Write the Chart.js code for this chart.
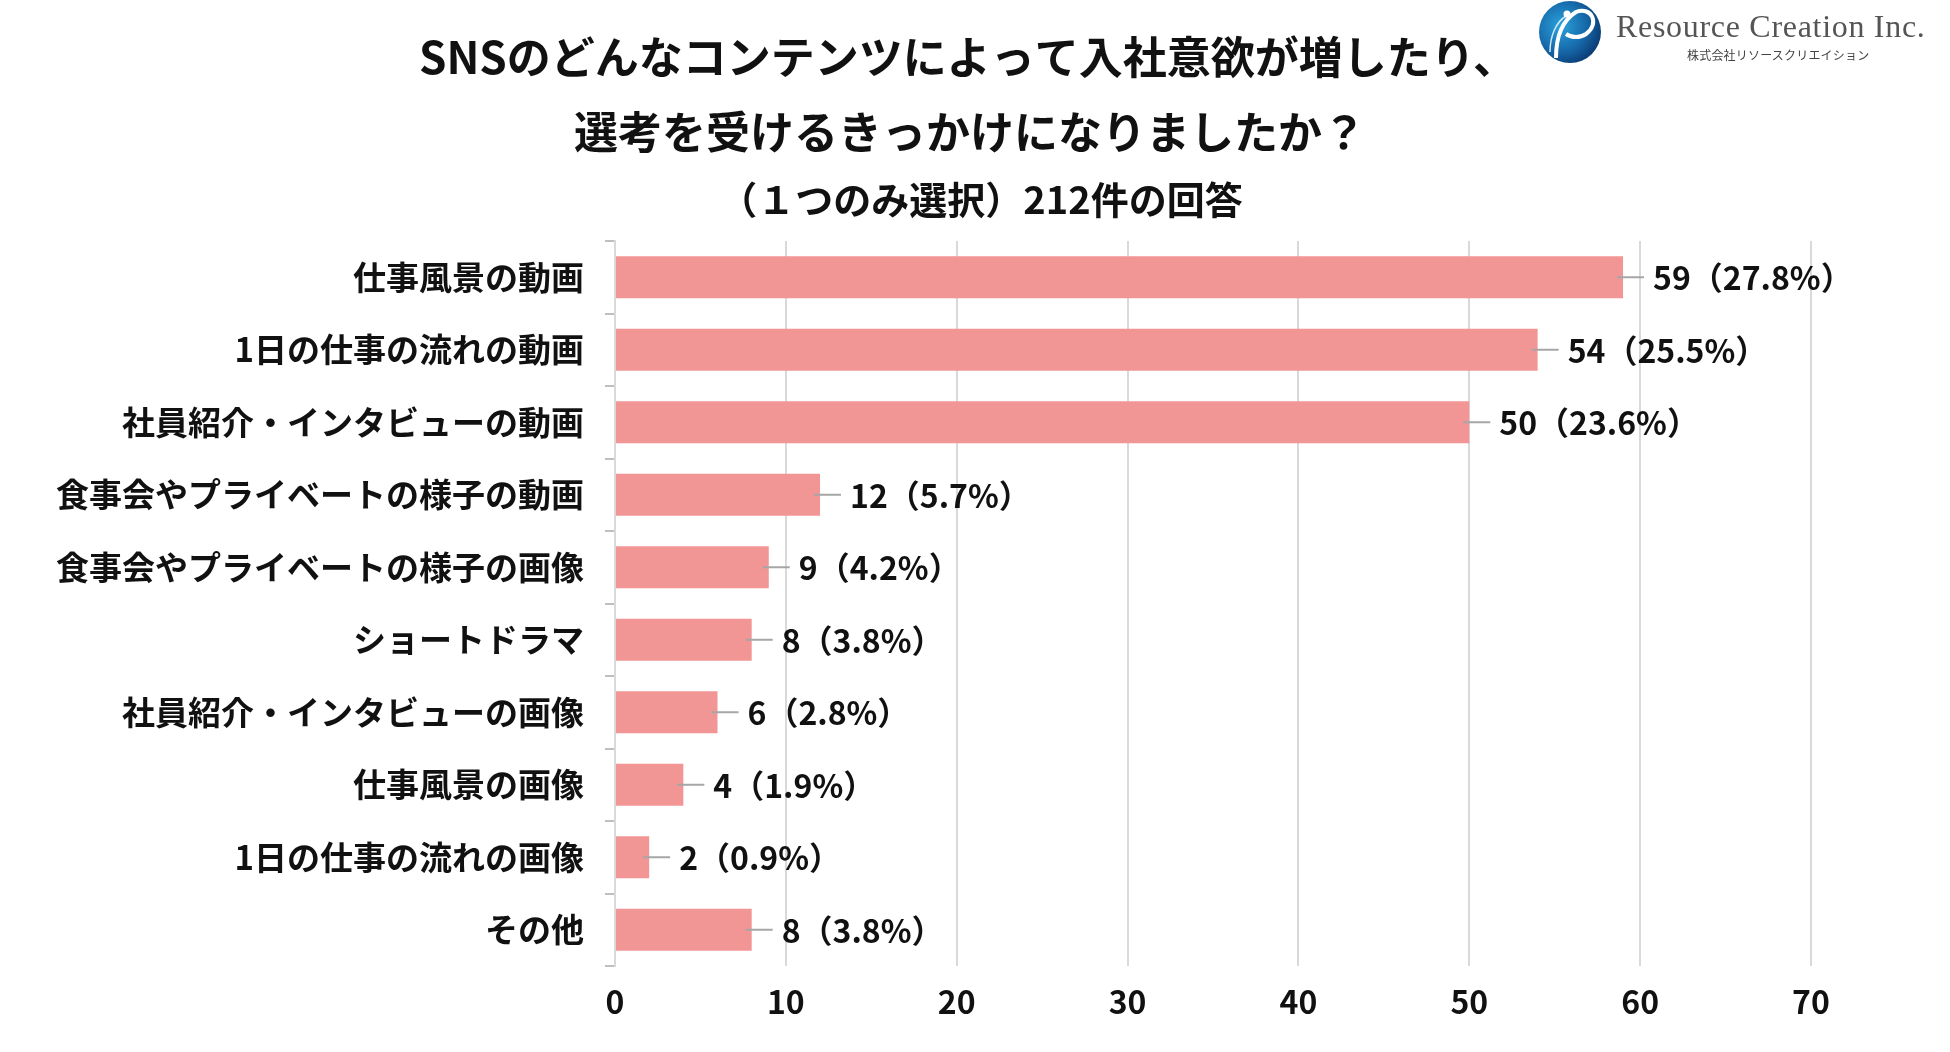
<!DOCTYPE html>
<html lang="ja">
<head>
<meta charset="utf-8">
<title>SNSコンテンツ 入社意欲</title>
<script src="https://cdn.jsdelivr.net/npm/chart.js@4.4.1/dist/chart.umd.min.js"></script>
<style>
  html, body { margin: 0; padding: 0; background: #fff; }
  .wrap { position: relative; width: 1950px; height: 1052px; }
  .logo { position: absolute; left: 1536px; top: 0px; width: 414px; height: 70px; }
  .logo svg { position: absolute; left: 0; top: 0; }
  .logo .en { position: absolute; left: 80px; top: 8px; font-family: "Liberation Serif", "DejaVu Serif", serif;
              font-size: 32px; color: #555; letter-spacing: 0.7px; white-space: nowrap; }
  .logo .ja { position: absolute; left: 151px; top: 46px; font-family: "Noto Sans CJK JP", sans-serif;
              font-size: 12px; color: #444; letter-spacing: 0.2px; white-space: nowrap; }
</style>
</head>
<body>
<div class="wrap">
  <canvas id="snsChart"></canvas>
  <div class="logo">
    <svg width="70" height="68" viewBox="0 0 70 68">
      <defs>
        <radialGradient id="lg" cx="0.35" cy="0.4" r="0.7">
          <stop offset="0" stop-color="#2aa3dc"/>
          <stop offset="0.6" stop-color="#1667a8"/>
          <stop offset="1" stop-color="#0a3770"/>
        </radialGradient>
      </defs>
      <circle cx="34" cy="32" r="31" fill="url(#lg)"/>
      <path d="M20 58 C 20 40, 24 22, 40 12 C 56 6, 64 24, 50 34 C 44 38, 36 38, 30 34" fill="none" stroke="#fff" stroke-width="4"/>
      <path d="M14 52 C 14 36, 20 22, 30 16" fill="none" stroke="#cfe9f7" stroke-width="1.5"/>
      <circle cx="31" cy="14" r="3.5" fill="#fff"/>
    </svg>
    <div class="en">Resource Creation Inc.</div>
    <div class="ja">株式会社リソースクリエイション</div>
  </div>
</div>
<script>
// データ
const categories = [
  '仕事風景の動画',
  '1日の仕事の流れの動画',
  '社員紹介・インタビューの動画',
  '食事会やプライベートの様子の動画',
  '食事会やプライベートの様子の画像',
  'ショートドラマ',
  '社員紹介・インタビューの画像',
  '仕事風景の画像',
  '1日の仕事の流れの画像',
  'その他'
];
const counts = [59, 54, 50, 12, 9, 8, 6, 4, 2, 8];
const percents = ['27.8', '25.5', '23.6', '5.7', '4.2', '3.8', '2.8', '1.9', '0.9', '3.8'];
const xMin = 0;
const xMax = 70;
const xStep = 10;

const titleLines = ['SNSのどんなコンテンツによって入社意欲が増したり、', '選考を受けるきっかけになりましたか？'];
const subtitleText = '（１つのみ選択）212件の回答';

const jpFont = '"Noto Sans CJK JP", "Noto Sans", sans-serif';

// タイトル（キャンバス中央より少し左寄せ）
const headTitle = {
  id: 'headTitle',
  afterDraw(chart) {
    const ctx = chart.ctx;
    ctx.save();
    ctx.fillStyle = '#111';
    ctx.textAlign = 'center';
    ctx.textBaseline = 'middle';
    ctx.font = 'bold 44px ' + jpFont;
    ctx.fillText(titleLines[0], 968, 57);
    ctx.fillText(titleLines[1], 970, 132);
    ctx.font = 'bold 38px ' + jpFont;
    ctx.fillText(subtitleText, 981, 200);
    ctx.restore();
  }
};

// 棒の右に「59（27.8%）」のラベルと引き出し線を描く
const barLabels = {
  id: 'barLabels',
  afterDatasetsDraw(chart) {
    const ctx = chart.ctx;
    const meta = chart.getDatasetMeta(0);
    meta.data.forEach((bar, i) => {
      ctx.save();
      ctx.strokeStyle = '#a6a6a6';
      ctx.lineWidth = 2;
      ctx.beginPath();
      ctx.moveTo(bar.x - 6, bar.y);
      ctx.lineTo(bar.x + 21, bar.y);
      ctx.stroke();
      ctx.fillStyle = '#111';
      ctx.font = 'bold 32px ' + jpFont;
      ctx.textAlign = 'left';
      ctx.textBaseline = 'middle';
      ctx.fillText(counts[i] + '（' + percents[i] + '%）', bar.x + 30, bar.y + 1);
      ctx.restore();
    });
  }
};

const ctx = document.getElementById('snsChart').getContext('2d');
const snsChart = new Chart(ctx, {
  type: 'bar',
  data: {
    labels: categories,
    datasets: [{
      data: counts,
      backgroundColor: '#f29595',
      borderWidth: 0,
      categoryPercentage: 0.58,
      barPercentage: 1.0
    }]
  },
  options: {
    indexAxis: 'y',
    responsive: true,
    maintainAspectRatio: false,
    animation: false,
    layout: {
      padding: { left: 0, right: 139, top: 241, bottom: 0 }
    },
    plugins: {
      legend: { display: false },
      tooltip: { enabled: false },
      title: { display: false }
    },
    scales: {
      x: {
        min: xMin,
        max: xMax,
        ticks: {
          stepSize: xStep,
          color: '#111',
          font: { family: jpFont, size: 32, weight: 'bold' },
          padding: 17
        },
        grid: { color: '#d9d9d9', lineWidth: 2, drawTicks: false },
        border: { display: false },
        afterFit(scale) { scale.height = 86; }
      },
      y: {
        ticks: {
          color: '#111',
          font: { family: jpFont, size: 33, weight: 'bold' },
          padding: 21
        },
        grid: {
          offset: true,
          drawOnChartArea: false,
          color: '#bfbfbf',
          lineWidth: 2,
          tickLength: 10
        },
        border: { color: '#d9d9d9', width: 2 },
        afterFit(scale) { scale.width = 615; }
      }
    }
  },
  plugins: [headTitle, barLabels]
});
</script>
</body>
</html>
